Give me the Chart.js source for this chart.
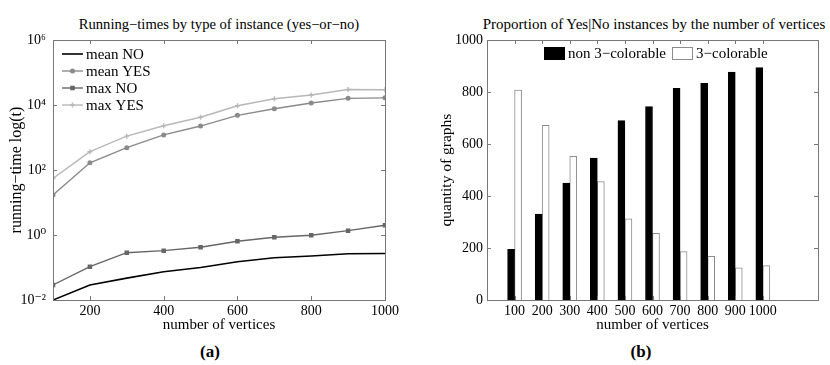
<!DOCTYPE html>
<html>
<head>
<meta charset="utf-8">
<script src="https://cdn.jsdelivr.net/npm/chart.js@4"></script>
<style>
  body { margin: 0; background: #fff; width: 830px; height: 365px; position: relative; overflow: hidden; font-family: "Liberation Serif", "DejaVu Serif", serif; }
  .box { position: absolute; top: 0; width: 415px; height: 340px; }
  .ttl { position: absolute; top: 16px; line-height: 16px; white-space: nowrap; transform: translateX(-50%); }
  .lab { position: absolute; top: 342px; line-height: 20px; font-size: 17px; font-weight: bold; transform: translateX(-50%); }
</style>
</head>
<body>
<div class="ttl" style="left:219px; font-size:14.6px">Running−times by type of instance (yes−or−no)</div>
<div class="ttl" style="left:654px; font-size:15px">Proportion of Yes|No instances by the number of vertices</div>
<div class="box" style="left:0"><canvas id="chartA" width="415" height="340"></canvas></div>
<div class="box" style="left:415px"><canvas id="chartB" width="415" height="340"></canvas></div>
<div class="lab" style="left:210px">(a)</div>
<div class="lab" style="left:641px">(b)</div>
<script>
// data
var vertices = [100, 200, 300, 400, 500, 600, 700, 800, 900, 1000];
var meanNo = [0.010, 0.029, 0.047, 0.074, 0.10, 0.15, 0.20, 0.225, 0.266, 0.27];
var meanYes = [17, 167, 485, 1200, 2250, 4800, 7700, 11500, 16000, 16600];
var maxNo = [0.029, 0.106, 0.285, 0.33, 0.42, 0.64, 0.85, 0.98, 1.36, 2.0];
var maxYes = [55, 365, 1100, 2300, 4200, 9500, 15500, 20400, 30000, 29500];
var logTicks = [1e-2, 1, 1e2, 1e4, 1e6];
var logTickLabels = ["10⁻²", "10⁰", "10²", "10⁴", "10⁶"];
var xTicksA = [200, 400, 600, 800, 1000];

var barLabels = ["100", "200", "300", "400", "500", "600", "700", "800", "900", "1000"];
var non3col = [195, 330, 450, 546, 690, 744, 814, 833, 877, 894];
var col3 = [807, 672, 553, 455, 312, 256, 186, 168, 124, 132];
var yTicksB = [0, 200, 400, 600, 800, 1000];

var SERIF = '"Liberation Serif", "DejaVu Serif", serif';
Chart.defaults.font.family = SERIF;
Chart.defaults.color = "#000";

function pts(ys) {
    return vertices.map(function (v, i) { return { x: v, y: ys[i] }; });
}

// box round the plot with small ticks pointing inwards (matlab style)
var framePlugin = {
    id: "frame",
    afterDatasetsDraw: function (chart) {
        var ctx = chart.ctx, a = chart.chartArea, t = 4;
        ctx.save();
        ctx.strokeStyle = "#777";
        ctx.lineWidth = 1;
        ctx.beginPath();
        var xs = chart.scales.x, ys = chart.scales.y;
        xs.ticks.forEach(function (tk, i) {
            if (tk.label === "") return;
            var px = Math.round(xs.getPixelForTick(i)) + 0.5;
            ctx.moveTo(px, a.bottom); ctx.lineTo(px, a.bottom - t);
            ctx.moveTo(px, a.top); ctx.lineTo(px, a.top + t);
        });
        ys.ticks.forEach(function (tk, i) {
            var py = Math.round(ys.getPixelForTick(i)) + 0.5;
            ctx.moveTo(a.left, py); ctx.lineTo(a.left + t, py);
            ctx.moveTo(a.right, py); ctx.lineTo(a.right - t, py);
        });
        ctx.stroke();
        ctx.strokeRect(Math.round(a.left) + 0.5, Math.round(a.top) + 0.5,
            Math.round(a.right - a.left), Math.round(a.bottom - a.top));
        ctx.restore();
    }
};

var lineLegend = {
    id: "lineLegend",
    afterDraw: function (chart) {
        var ctx = chart.ctx, a = chart.chartArea;
        ctx.save();
        ctx.font = "15px " + SERIF;
        ctx.textBaseline = "middle";
        chart.data.datasets.forEach(function (ds, i) {
            var y = a.top + 14 + i * 17;
            var x0 = a.left + 9, x1 = a.left + 30;
            ctx.strokeStyle = ds.borderColor;
            ctx.fillStyle = ds.borderColor;
            ctx.lineWidth = ds.borderWidth;
            ctx.beginPath(); ctx.moveTo(x0, y); ctx.lineTo(x1, y); ctx.stroke();
            if (ds.pointRadius) {
                Chart.helpers.drawPoint(ctx, { pointStyle: ds.pointStyle, radius: ds.pointRadius, borderWidth: 1, rotation: 0 }, (x0 + x1) / 2, y);
            }
            ctx.fillStyle = "#000";
            ctx.fillText(ds.label, x1 + 3, y + 1);
        });
        ctx.restore();
    }
};

var barLegend = {
    id: "barLegend",
    afterDraw: function (chart) {
        var ctx = chart.ctx, a = chart.chartArea;
        ctx.save();
        ctx.font = "15px " + SERIF;
        ctx.textBaseline = "middle";
        var x = a.left + 57, y = a.top + 7;
        chart.data.datasets.forEach(function (ds) {
            ctx.fillStyle = ds.backgroundColor;
            ctx.fillRect(x, y, 21, 13);
            ctx.strokeStyle = ds.borderColor;
            ctx.lineWidth = 1;
            ctx.strokeRect(x + 0.5, y + 0.5, 20, 12);
            ctx.fillStyle = "#000";
            ctx.fillText(ds.label, x + 24, y + 7);
            x += 24 + ctx.measureText(ds.label).width + 6;
        });
        ctx.restore();
    }
};

new Chart(document.getElementById("chartA").getContext("2d"), {
    type: "line",
    data: {
        datasets: [
            { label: "mean NO", data: pts(meanNo), borderColor: "#000", backgroundColor: "#000", borderWidth: 1.6, pointRadius: 0 },
            { label: "mean YES", data: pts(meanYes), borderColor: "#8a8a8a", backgroundColor: "#8a8a8a", borderWidth: 1.4, pointRadius: 1.8, pointStyle: "circle" },
            { label: "max NO", data: pts(maxNo), borderColor: "#666", backgroundColor: "#666", borderWidth: 1.4, pointRadius: 2.2, pointStyle: "rect" },
            { label: "max YES", data: pts(maxYes), borderColor: "#b8b8b8", backgroundColor: "#b8b8b8", borderWidth: 1.4, pointRadius: 2.5, pointStyle: "cross" }
        ]
    },
    options: {
        responsive: false,
        animation: false,
        layout: { padding: { top: 40, right: 30, bottom: 0, left: 0 } },
        plugins: { legend: { display: false }, tooltip: { enabled: false } },
        scales: {
            x: {
                type: "linear",
                min: 100,
                max: 1000,
                afterBuildTicks: function (axis) { axis.ticks = xTicksA.map(function (v) { return { value: v }; }); },
                afterFit: function (s) { s.height = 40; },
                grid: { display: false, drawTicks: false },
                border: { display: false },
                ticks: { font: { size: 14 }, padding: 3, maxRotation: 0, callback: function (v) { return String(v); } },
                title: { display: true, text: "number of vertices", font: { size: 15 }, padding: { top: 0, bottom: 6 } }
            },
            y: {
                type: "logarithmic",
                min: 1e-2,
                max: 1e6,
                afterBuildTicks: function (axis) { axis.ticks = logTicks.map(function (v) { return { value: v }; }); },
                afterFit: function (s) { s.width = 53; },
                grid: { display: false, drawTicks: false },
                border: { display: false },
                ticks: {
                    font: { size: 14 },
                    padding: 7,
                    callback: function (v) { var i = logTicks.indexOf(v); return i < 0 ? "" : logTickLabels[i]; }
                },
                title: { display: true, text: "running−time log(t)", font: { size: 16 }, padding: { top: 7, bottom: 0 } }
            }
        }
    },
    plugins: [framePlugin, lineLegend]
});

new Chart(document.getElementById("chartB").getContext("2d"), {
    type: "bar",
    data: {
        labels: [""].concat(barLabels, ["", ""]),
        datasets: [
            { label: "non 3−colorable", data: [null].concat(non3col, [null, null]), backgroundColor: "#000", borderColor: "#000", borderWidth: 1 },
            { label: "3−colorable", data: [null].concat(col3, [null, null]), backgroundColor: "#fff", borderColor: "#8c8c8c", borderWidth: 1 }
        ]
    },
    options: {
        responsive: false,
        animation: false,
        layout: { padding: { top: 40, right: 12, bottom: 0, left: 0 } },
        plugins: { legend: { display: false }, tooltip: { enabled: false } },
        datasets: { bar: { barThickness: 7 } },
        scales: {
            x: {
                offset: false,
                afterFit: function (s) { s.height = 40; },
                grid: { display: false, drawTicks: false },
                border: { display: false },
                ticks: { font: { size: 14 }, padding: 3, autoSkip: false, maxRotation: 0 },
                title: { display: true, text: "number of vertices", font: { size: 15 }, padding: { top: 0, bottom: 6 } }
            },
            y: {
                min: 0,
                max: 1000,
                afterBuildTicks: function (axis) { axis.ticks = yTicksB.map(function (v) { return { value: v }; }); },
                afterFit: function (s) { s.width = 72; },
                grid: { display: false, drawTicks: false },
                border: { display: false },
                ticks: { font: { size: 14 }, padding: 4, callback: function (v) { return String(v); } },
                title: { display: true, text: "quantity of graphs", font: { size: 15.5 }, padding: { top: 23, bottom: 0 } }
            }
        }
    },
    plugins: [framePlugin, barLegend]
});
</script>
</body>
</html>
